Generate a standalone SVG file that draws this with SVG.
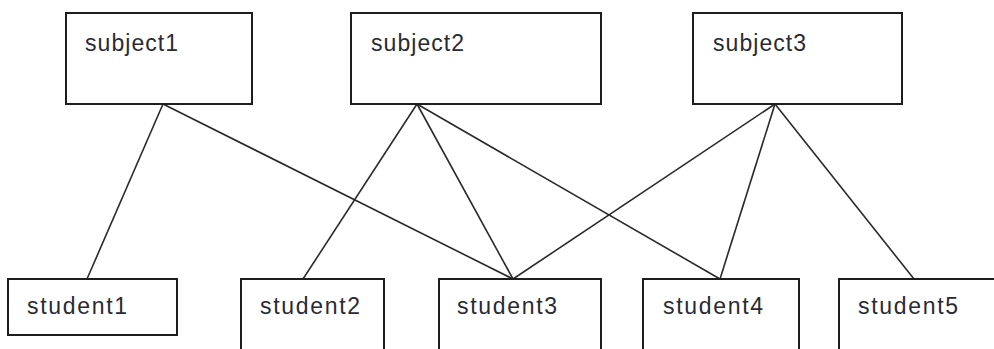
<svg xmlns="http://www.w3.org/2000/svg" width="994" height="349" viewBox="0 0 994 349">
  <style>
    .box { fill: #ffffff; stroke: #1e1e1e; stroke-width: 2; }
    .label { font-family: "Liberation Sans", Arial, sans-serif; font-size: 23px; fill: #2a2a33; }
    .edge { stroke: #2a2a2a; stroke-width: 1.6; fill: none; }
  </style>
  <rect width="994" height="349" fill="#ffffff"/>

  <!-- links between subjects and students -->
  <g id="connectors">
    <line class="edge" x1="163" y1="104" x2="87" y2="279"/>
    <line class="edge" x1="163" y1="104" x2="513" y2="279"/>
    <line class="edge" x1="417" y1="104" x2="303" y2="279"/>
    <line class="edge" x1="417" y1="104" x2="513" y2="279"/>
    <line class="edge" x1="417" y1="104" x2="720" y2="279"/>
    <line class="edge" x1="775" y1="104" x2="513" y2="279"/>
    <line class="edge" x1="775" y1="104" x2="720" y2="279"/>
    <line class="edge" x1="775" y1="104" x2="914" y2="279"/>
  </g>

  <!-- subjects -->
  <g id="subject1">
    <rect class="box" x="66" y="13" width="186" height="91"/>
    <text class="label" x="85" y="51" textLength="93">subject1</text>
  </g>
  <g id="subject2">
    <rect class="box" x="351" y="13" width="250" height="91"/>
    <text class="label" x="371" y="51" textLength="93">subject2</text>
  </g>
  <g id="subject3">
    <rect class="box" x="693" y="13" width="209" height="91"/>
    <text class="label" x="713" y="51" textLength="93">subject3</text>
  </g>

  <!-- students -->
  <g id="student1">
    <rect class="box" x="8" y="279" width="169" height="56"/>
    <text class="label" x="27" y="314" textLength="100">student1</text>
  </g>
  <g id="student2">
    <rect class="box" x="241" y="279" width="143" height="80"/>
    <text class="label" x="260" y="314" textLength="100">student2</text>
  </g>
  <g id="student3">
    <rect class="box" x="439" y="279" width="162" height="80"/>
    <text class="label" x="457" y="314" textLength="100">student3</text>
  </g>
  <g id="student4">
    <rect class="box" x="643" y="279" width="156" height="80"/>
    <text class="label" x="663" y="314" textLength="100">student4</text>
  </g>
  <g id="student5">
    <rect class="box" x="839" y="279" width="170" height="80"/>
    <text class="label" x="858" y="314" textLength="100">student5</text>
  </g>
</svg>
